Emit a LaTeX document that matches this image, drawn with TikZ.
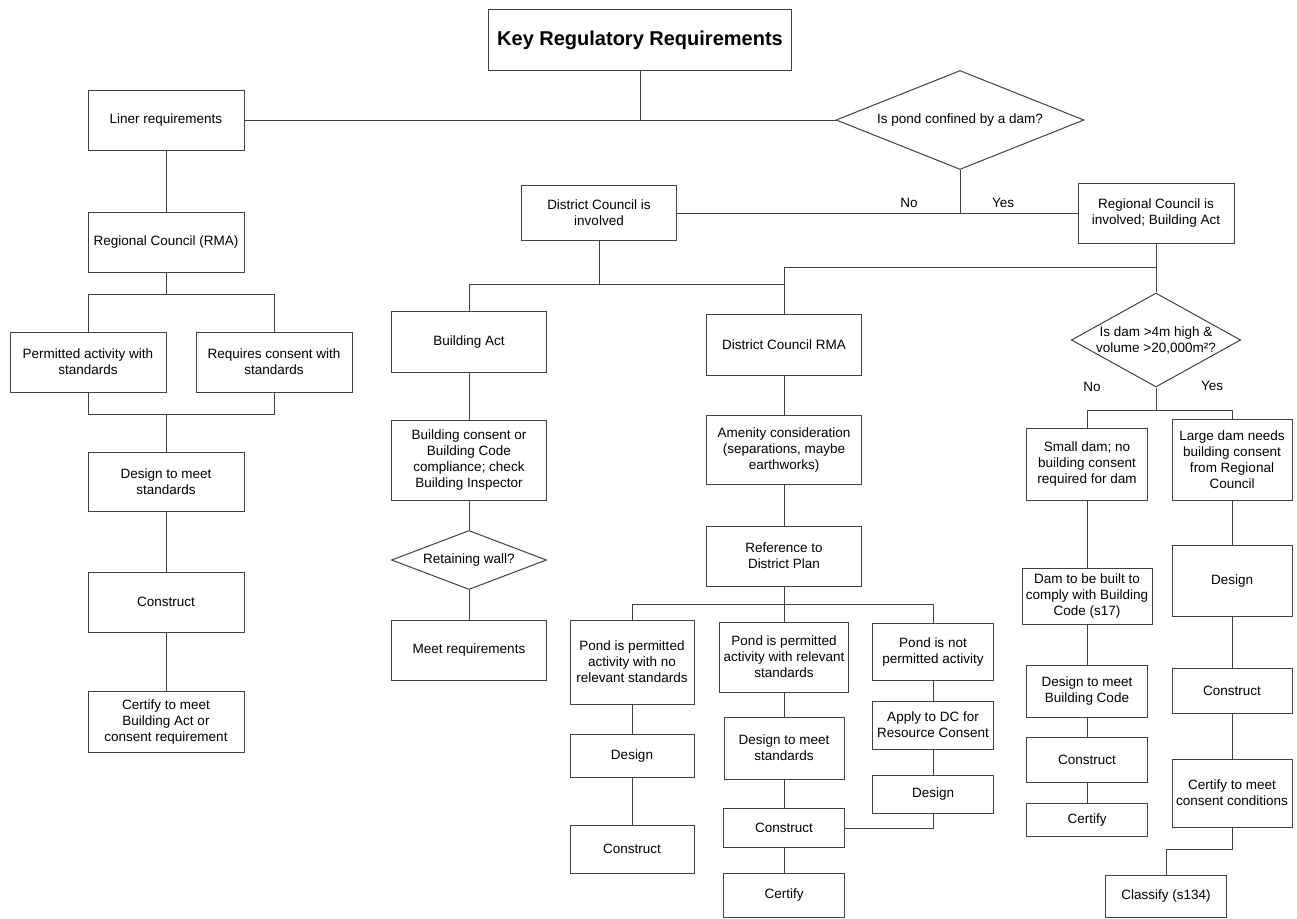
\documentclass[tikz,border=0pt]{standalone}
\usepackage{fontspec}
\setmainfont{Liberation Sans}
\usetikzlibrary{shapes.geometric}

\tikzset{boite/.style 2 args = {draw, rectangle, minimum width = #1, minimum height = #2,
                                align = center, inner sep = 1pt},
         losange/.style = {draw, diamond, aspect = #1, inner sep = 0pt, align = center},
         losange/.default = 2.5,
         every node/.style = {font = \fontsize{13.5}{16}\selectfont, draw = black!75, line width = 1pt},
         trait/.style = {draw = black!75, line width = 1pt}
        }

\begin{document}
\begin{tikzpicture}[x=1pt, y=-1pt]
  \useasboundingbox (0,0) rectangle (1297,918);
  % top of the chart
  \node[boite={303pt}{61pt}, font=\fontsize{20}{24}\selectfont\bfseries] (titre) at (640,40) {Key Regulatory Requirements};
  \node[boite={156pt}{60pt}] (liner) at (166,120) {Liner requirements};
  \node[losange=2.5, minimum width=248pt, minimum height=99pt] (q1) at (960,120) {Is pond confined by a dam?};
  \node[boite={155pt}{55pt}] (dc) at (599,213) {District Council is\\involved};
  \node[boite={156pt}{60pt}] (rc) at (1156,213) {Regional Council is\\involved; Building Act};
  % liner column
  \node[boite={156pt}{60pt}] (rcrma) at (166,242) {Regional Council (RMA)};
  \node[boite={156pt}{60pt}] (perm) at (88,362) {Permitted activity with\\standards};
  \node[boite={156pt}{60pt}] (req) at (274,362) {Requires consent with\\standards};
  \node[boite={156pt}{59pt}] (dstd) at (166,482) {Design to meet\\standards};
  \node[boite={156pt}{60pt}] (cons1) at (166,602) {Construct};
  \node[boite={156pt}{61pt}] (cert1) at (166,722) {Certify to meet\\Building Act or\\consent requirement};
  % building act column
  \node[boite={155pt}{61pt}] (bact) at (469,342) {Building Act};
  \node[boite={155pt}{80pt}] (bcons) at (469,460) {Building consent or\\Building Code\\compliance; check\\Building Inspector};
  \node[losange=2.6, minimum width=155pt, minimum height=59pt] (q3) at (469,560) {Retaining wall?};
  \node[boite={155pt}{60pt}] (meet) at (469,650) {Meet requirements};
  % district council RMA
  \node[boite={155pt}{61pt}] (dcrma) at (784,345) {District Council RMA};
  \node[boite={155pt}{69pt}] (amen) at (784,450) {Amenity consideration\\(separations, maybe\\earthworks)};
  \node[boite={155pt}{60pt}] (ref) at (784,556) {Reference to\\District Plan};
  \node[boite={124pt}{84pt}] (pond1) at (632,662) {Pond is permitted\\activity with no\\relevant standards};
  \node[boite={129pt}{70pt}] (pond2) at (784,657) {Pond is permitted\\activity with relevant\\standards};
  \node[boite={121pt}{57pt}] (pond3) at (933,652) {Pond is not\\permitted activity};
  \node[boite={124pt}{43pt}] (des1) at (632,756) {Design};
  \node[boite={124pt}{48pt}] (cons3) at (632,849) {Construct};
  \node[boite={120pt}{62pt}] (des2) at (784,748) {Design to meet\\standards};
  \node[boite={121pt}{39pt}] (cons2) at (784,828) {Construct};
  \node[boite={121pt}{44pt}] (cert2) at (784,895) {Certify};
  \node[boite={121pt}{48pt}] (apply) at (933,725) {Apply to DC for\\Resource Consent};
  \node[boite={121pt}{38pt}] (des3) at (933,794) {Design};
  % dam columns
  \node[losange=1.8, minimum width=167pt, minimum height=93pt] (q2) at (1156,340) {Is dam >4m high \&\\volume >20,000m²?};
  \node[boite={121pt}{72pt}] (small) at (1087,464) {Small dam; no\\building consent\\required for dam};
  \node[boite={120pt}{81pt}] (large) at (1232,460) {Large dam needs\\building consent\\from Regional\\Council};
  \node[boite={130pt}{56pt}] (dam) at (1087,596) {Dam to be built to\\comply with Building\\Code (s17)};
  \node[boite={121pt}{52pt}] (dbc) at (1087,691) {Design to meet\\Building Code};
  \node[boite={121pt}{45pt}] (cons4) at (1087,760) {Construct};
  \node[boite={121pt}{33pt}] (cert4) at (1087,820) {Certify};
  \node[boite={120pt}{71pt}] (des5) at (1232,581) {Design};
  \node[boite={120pt}{45pt}] (cons5) at (1232,691) {Construct};
  \node[boite={120pt}{68pt}] (cert5) at (1232,793) {Certify to meet\\consent conditions};
  \node[boite={121pt}{42pt}] (class) at (1166,896) {Classify (s134)};
  % connectors
  \draw[trait] (liner) -- (q1);
  \draw[trait] (titre) -- (titre |- liner);
  \draw[trait] (q1) -- (q1 |- rc) coordinate (j0);
  \draw[trait] (dc) -- (rc);
  \node[draw=none] (no1) at (909,203) {No};
  \node[draw=none] (yes1) at (1003,203) {Yes};
  \draw[trait] (rcrma.south) -- ++(0,22) -| (perm.north);
  \draw[trait] (rcrma.south) -- ++(0,22) -| (req.north);
  \draw[trait] (perm.south) -- ++(0,22) -| (dstd.north);
  \draw[trait] (req.south) -- ++(0,22) -| (dstd.north);
  \draw[trait] (dc.south) -- ++(0,43) coordinate (j1) -| (bact.north);
  \draw[trait] (j1) -- (j1 -| dcrma);
  \draw[trait] (rc.south) -- ++(0,24) -| (dcrma.north);
  \draw[trait] (ref.south) -- ++(0,18) -| (pond1.north);
  \draw[trait] (ref.south) -- ++(0,18) -| (pond3.north);
  \draw[trait] (des3.south) |- (cons2.east);
  \draw[trait] (q2.south) -- ++(0,23) -| (small.north);
  \draw[trait] (q2.south) -- ++(0,23) -| (large.north);
  \node[draw=none] (no2) at (1092,387) {No};
  \node[draw=none] (yes2) at (1212,386) {Yes};
  \draw[trait] (cert5.south) -- ++(0,22) -| (class.north);
  \foreach \a/\b in {liner/rcrma, dstd/cons1, cons1/cert1, bact/bcons, bcons/q3, q3/meet,
                     dcrma/amen, amen/ref, ref/pond2, pond1/des1, des1/cons3, pond2/des2,
                     des2/cons2, cons2/cert2, pond3/apply, apply/des3, rc/q2, small/dam,
                     dam/dbc, dbc/cons4, cons4/cert4, large/des5, des5/cons5, cons5/cert5}
      {\draw[trait] (\a) -- (\b);};
\end{tikzpicture}
\end{document}
